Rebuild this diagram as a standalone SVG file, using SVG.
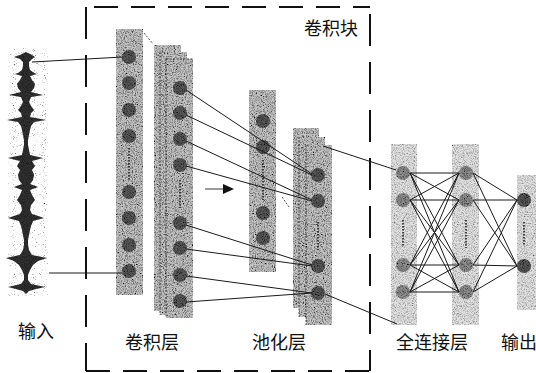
<svg xmlns="http://www.w3.org/2000/svg" width="536" height="373" viewBox="0 0 536 373">
<defs>
<filter id="grain" x="0" y="0" width="100%" height="100%">
<feTurbulence type="fractalNoise" baseFrequency="0.9" numOctaves="2" seed="4" result="t"/>
<feColorMatrix in="t" type="matrix" values="0 0 0 0 0  0 0 0 0 0  0 0 0 0 0  2.4 0 0 0 -0.95" result="d"/>
<feComposite in="d" in2="SourceGraphic" operator="in" result="dd"/>
<feMerge><feMergeNode in="SourceGraphic"/><feMergeNode in="dd"/></feMerge>
</filter>
<filter id="grainLight" x="0" y="0" width="100%" height="100%">
<feTurbulence type="fractalNoise" baseFrequency="0.9" numOctaves="2" seed="7" result="t"/>
<feColorMatrix in="t" type="matrix" values="0 0 0 0 0  0 0 0 0 0  0 0 0 0 0  1.8 0 0 0 -0.75" result="d"/>
<feComposite in="d" in2="SourceGraphic" operator="in" result="dd"/>
<feMerge><feMergeNode in="SourceGraphic"/><feMergeNode in="dd"/></feMerge>
</filter>
<filter id="sparse" x="0" y="0" width="100%" height="100%">
<feTurbulence type="fractalNoise" baseFrequency="1.1" numOctaves="1" seed="9" result="t"/>
<feColorMatrix in="t" type="matrix" values="0 0 0 0 0  0 0 0 0 0  0 0 0 0 0  5 0 0 0 -3.1" result="d"/>
<feComposite in="d" in2="SourceGraphic" operator="in" result="dd"/>
<feMerge><feMergeNode in="SourceGraphic"/><feMergeNode in="dd"/></feMerge>
</filter>
<style>
.strip{fill:#c6c6c6;filter:url(#grain);}
.fc{fill:#e2e2e2;filter:url(#grainLight);}
.nd{fill:#5a5a5a;filter:url(#grain);}
.ndl{fill:#909090;filter:url(#grain);}
.edge{fill:none;stroke:#222;stroke-width:0.8;stroke-dasharray:2 1.5;}
.dots{fill:none;stroke:#222;stroke-width:1.6;stroke-dasharray:1.5 1.5;}
.ln{fill:none;stroke:#1a1a1a;stroke-width:1;}
.box{fill:none;stroke:#111;stroke-width:2;}
.lbl{font-family:"Noto Sans CJK SC","Noto Sans",sans-serif;font-size:18px;fill:#111;}
</style>
</defs>
<rect width="536" height="373" fill="#fff"/>

<g id="conv-block">
<line class="box" x1="86" y1="7" x2="370" y2="7" stroke-dasharray="24 13" stroke-dashoffset="-8"/>
<line class="box" x1="86" y1="371" x2="370" y2="371" stroke-dasharray="24 13"/>
<line class="box" x1="86" y1="7" x2="86" y2="371" stroke-dasharray="32 16"/>
<line class="box" x1="370" y1="14" x2="370" y2="371" stroke-dasharray="32 16"/>
<text class="lbl" x="304" y="35" font-size="17">卷积块</text>
</g>

<g id="input">
<rect x="8" y="48" width="40" height="248" fill="#fdfdfd" filter="url(#sparse)"/>
<path fill="#333" filter="url(#grainLight)" d="M26,52 L32,55 L35,57 L32,59 L29,62 L29,66 L30,70 L34,73 L37,74 L30,76 L32,80 L35,84 L34,88 L31,92 L43,95 L31,97 L29,102 L31,106 L34,110 L31,113 L30,117 L46,120 L34,122 L31,126 L30,130 L29,135 L28,140 L28,145 L29,150 L30,155 L43,158 L32,161 L35,166 L32,170 L34,175 L33,180 L30,184 L38,187 L30,190 L32,195 L35,200 L31,205 L30,210 L32,214 L44,218 L33,221 L31,226 L30,230 L29,235 L28,240 L28,245 L29,250 L32,255 L47,258 L38,261 L33,265 L30,270 L28,275 L28,280 L31,284 L45,287 L36,289 L29,291 L26,294 L23,291 L16,289 L8,287 L21,284 L24,280 L24,275 L22,270 L19,265 L14,261 L6,258 L20,255 L23,250 L24,245 L24,240 L23,235 L22,230 L21,226 L19,221 L8,218 L20,214 L22,210 L21,205 L17,200 L20,195 L22,190 L14,187 L22,184 L19,180 L18,175 L20,170 L17,166 L20,161 L8,158 L22,155 L23,150 L24,145 L24,140 L23,135 L22,130 L21,126 L18,122 L7,120 L22,117 L21,113 L18,110 L21,106 L23,102 L21,97 L9,95 L21,92 L18,88 L17,84 L20,80 L22,76 L15,74 L18,73 L22,70 L23,66 L23,62 L20,59 L14,57 L20,55 Z"/>
<text class="lbl" x="18" y="338">输入</text>
</g>

<g id="conv1">
<rect class="strip" x="116" y="29" width="27" height="266"/>
<circle class="nd" cx="129" cy="57" r="7"/>
<circle class="nd" cx="129" cy="83" r="7"/>
<circle class="nd" cx="129" cy="110" r="7"/>
<circle class="nd" cx="129" cy="136" r="7"/>
<line class="dots" x1="129" y1="148" x2="129" y2="180"/>
<circle class="nd" cx="129" cy="192" r="7"/>
<circle class="nd" cx="129" cy="218" r="7"/>
<circle class="nd" cx="129" cy="245" r="7"/>
<circle class="nd" cx="129" cy="271" r="7"/>
</g>

<g id="conv2">
<rect class="strip" x="154" y="45" width="27" height="266"/>
<rect class="strip" x="160" y="52" width="27" height="263"/>
<line class="edge" x1="160" y1="52" x2="160" y2="315"/>
<rect class="strip" x="166" y="59" width="27" height="259"/>
<line class="edge" x1="166" y1="59" x2="166" y2="318"/>
<line class="edge" x1="166" y1="59" x2="193" y2="59"/>
<circle class="nd" cx="180" cy="88" r="7"/>
<circle class="nd" cx="180" cy="113" r="7"/>
<circle class="nd" cx="180" cy="139" r="7"/>
<circle class="nd" cx="180" cy="165" r="7"/>
<line class="dots" x1="180" y1="180" x2="180" y2="208"/>
<circle class="nd" cx="180" cy="223" r="7"/>
<circle class="nd" cx="180" cy="248" r="7"/>
<circle class="nd" cx="180" cy="275" r="7"/>
<circle class="nd" cx="180" cy="301" r="7"/>
<text class="lbl" x="125" y="349">卷积层</text>
</g>

<g id="pool1">
<rect class="strip" x="249" y="90" width="27" height="182"/>
<circle class="nd" cx="263" cy="121" r="7"/>
<circle class="nd" cx="263" cy="147" r="7"/>
<line class="dots" x1="263" y1="160" x2="263" y2="200" stroke-width="1"/>
<circle class="nd" cx="263" cy="213" r="7"/>
<circle class="nd" cx="263" cy="238" r="7"/>
</g>

<g id="pool2">
<rect class="strip" x="293" y="128" width="26" height="180"/>
<rect class="strip" x="299" y="137" width="26" height="180"/>
<line class="edge" x1="299" y1="137" x2="299" y2="317"/>
<rect class="strip" x="306" y="145" width="26" height="180"/>
<line class="edge" x1="306" y1="145" x2="306" y2="325"/>
<circle class="nd" cx="318" cy="175" r="7"/>
<circle class="nd" cx="318" cy="201" r="7"/>
<line class="dots" x1="318" y1="222" x2="318" y2="250"/>
<circle class="nd" cx="318" cy="266" r="7"/>
<circle class="nd" cx="318" cy="293" r="7"/>
<text class="lbl" x="252" y="349">池化层</text>
</g>

<g id="fc1">
<rect class="fc" x="391" y="144" width="26" height="181"/>
<circle class="ndl" cx="403" cy="173" r="7"/>
<circle class="ndl" cx="403" cy="200" r="7"/>
<line class="dots" x1="403" y1="220" x2="403" y2="246"/>
<circle class="ndl" cx="403" cy="265" r="7"/>
<circle class="ndl" cx="403" cy="292" r="7"/>
</g>

<g id="fc2">
<rect class="fc" x="452" y="144" width="27" height="181"/>
<circle class="ndl" cx="466" cy="173" r="7"/>
<circle class="ndl" cx="466" cy="200" r="7"/>
<line class="dots" x1="466" y1="220" x2="466" y2="248"/>
<circle class="ndl" cx="466" cy="265" r="7"/>
<circle class="ndl" cx="466" cy="292" r="7"/>
<text class="lbl" x="396" y="349">全连接层</text>
</g>

<g id="output">
<rect class="fc" x="517" y="175" width="25" height="135"/>
<circle class="nd" cx="524" cy="200" r="7"/>
<line class="dots" x1="524" y1="222" x2="524" y2="246"/>
<circle class="nd" cx="524" cy="266" r="7"/>
<text class="lbl" x="501" y="349" font-size="17">输出</text>
</g>

<g id="connectors">
<line class="ln" x1="32" y1="62" x2="123" y2="57"/>
<line class="ln" x1="49" y1="273" x2="122" y2="273"/>
<line class="edge" x1="144" y1="33" x2="153" y2="44"/>
<line class="ln" x1="186" y1="90" x2="312" y2="174"/>
<line class="ln" x1="186" y1="115" x2="312" y2="175"/>
<line class="ln" x1="186" y1="141" x2="312" y2="200"/>
<line class="ln" x1="186" y1="166" x2="312" y2="201"/>
<line class="ln" x1="186" y1="225" x2="312" y2="265"/>
<line class="ln" x1="186" y1="249" x2="312" y2="266"/>
<line class="ln" x1="186" y1="276" x2="312" y2="293"/>
<line class="ln" x1="186" y1="302" x2="312" y2="293"/>
<line x1="205" y1="189" x2="224" y2="189" stroke="#9a9a9a" stroke-width="2"/>
<polygon points="223,184 234,189 223,194" fill="#111"/>
<line class="edge" x1="282" y1="197" x2="289" y2="207"/>
<line class="ln" x1="323" y1="146" x2="396" y2="170"/>
<line class="ln" x1="325" y1="294" x2="397" y2="324"/>
<g class="ln">
<line x1="410" y1="173" x2="459" y2="173"/><line x1="410" y1="173" x2="459" y2="200"/><line x1="410" y1="173" x2="459" y2="265"/><line x1="410" y1="173" x2="459" y2="292"/>
<line x1="410" y1="200" x2="459" y2="173"/><line x1="410" y1="200" x2="459" y2="200"/><line x1="410" y1="200" x2="459" y2="265"/><line x1="410" y1="200" x2="459" y2="292"/>
<line x1="410" y1="265" x2="459" y2="173"/><line x1="410" y1="265" x2="459" y2="200"/><line x1="410" y1="265" x2="459" y2="265"/><line x1="410" y1="265" x2="459" y2="292"/>
<line x1="410" y1="292" x2="459" y2="173"/><line x1="410" y1="292" x2="459" y2="200"/><line x1="410" y1="292" x2="459" y2="265"/><line x1="410" y1="292" x2="459" y2="292"/>
<line x1="473" y1="173" x2="517" y2="200"/><line x1="473" y1="173" x2="517" y2="266"/>
<line x1="473" y1="200" x2="517" y2="200"/><line x1="473" y1="200" x2="517" y2="266"/>
<line x1="473" y1="265" x2="517" y2="200"/><line x1="473" y1="265" x2="517" y2="266"/>
<line x1="473" y1="292" x2="517" y2="200"/><line x1="473" y1="292" x2="517" y2="266"/>
</g>
</g>
</svg>
